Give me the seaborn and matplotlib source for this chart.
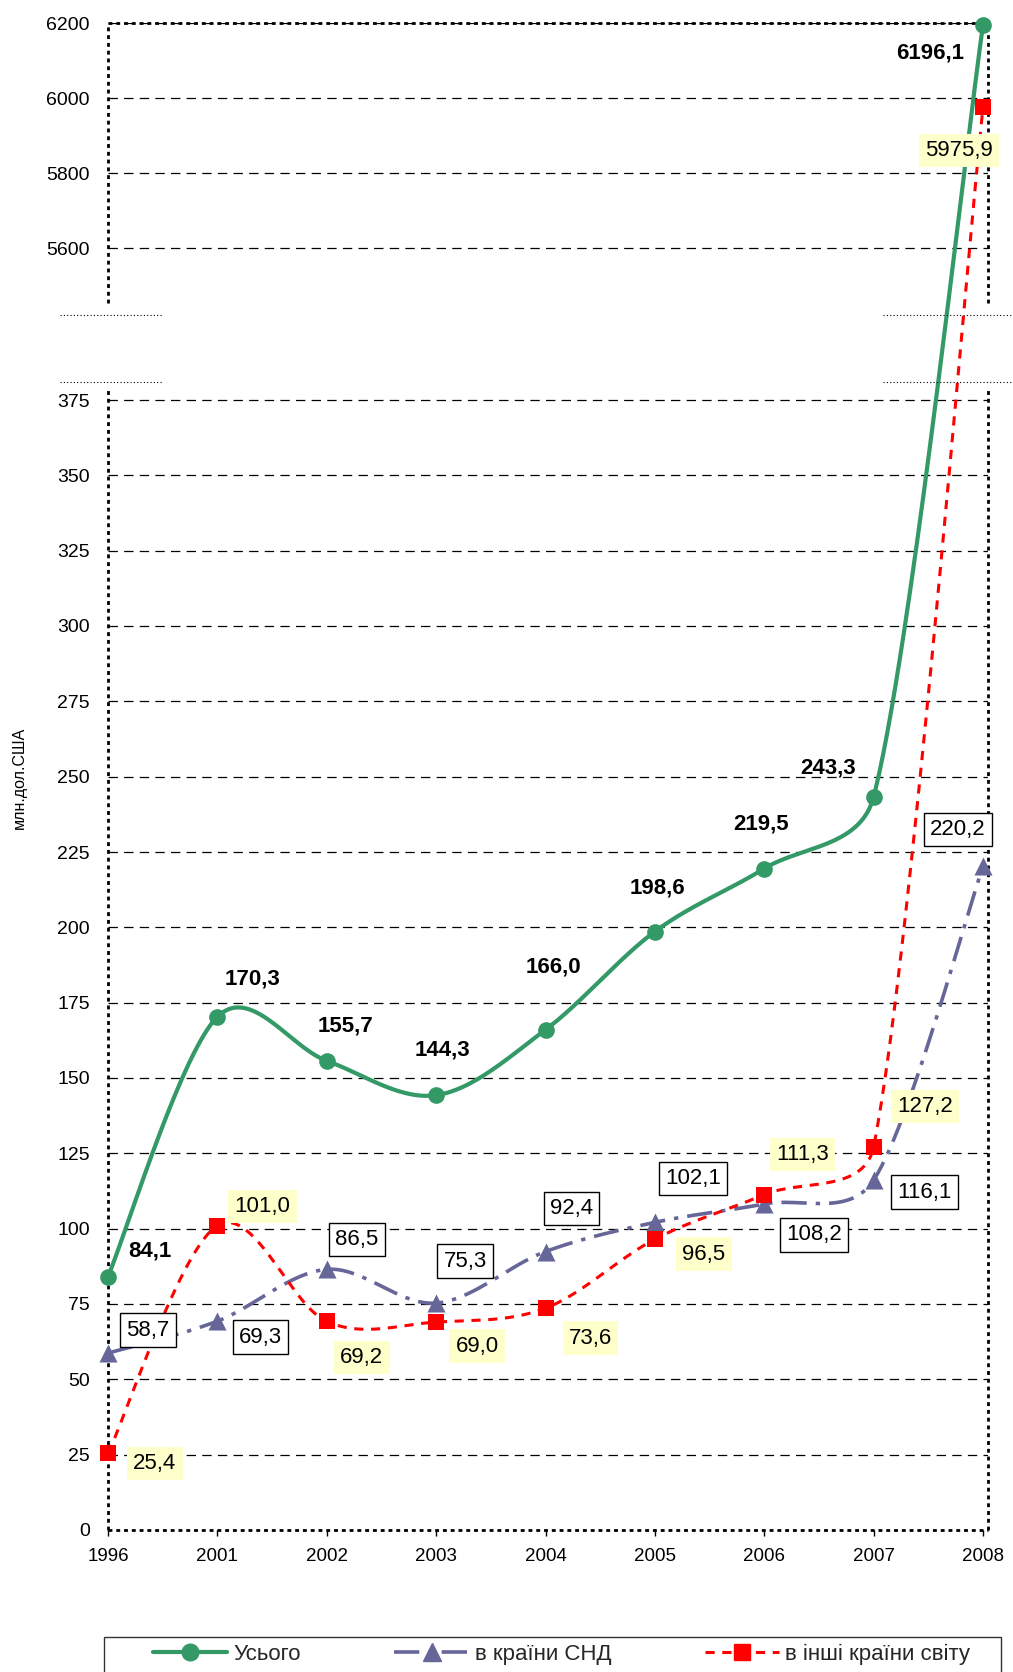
import numpy as np
import pandas as pd
import matplotlib
matplotlib.use("Agg")
import matplotlib.pyplot as plt
import seaborn as sns
from matplotlib.lines import Line2D
from matplotlib.patches import Rectangle

# Data (млн. дол. США)
years = ["1996", "2001", "2002", "2003", "2004", "2005", "2006", "2007", "2008"]
total = [84.1, 170.3, 155.7, 144.3, 166.0, 198.6, 219.5, 243.3, 6196.1]
cis = [58.7, 69.3, 86.5, 75.3, 92.4, 102.1, 108.2, 116.1, 220.2]
other = [25.4, 101.0, 69.2, 69.0, 73.6, 96.5, 111.3, 127.2, 5975.9]
names = ["Усього", "в країни СНД", "в інші країни світу"]
low_ticks = list(range(0, 376, 25))
high_ticks = [5600, 5800, 6000, 6200]

# label offsets in pixels (dx, dy downwards)
off_total = [(42, -26), (35, -38), (19, -35), (6, -45), (8, -63), (3, -44), (-3, -45), (-46, -29), (-53, 28)]
off_cis = [(40, -23), (43, 16), (30, -30), (29, -42), (26, -43), (38, -44), (50, 31), (51, 12), (-25, -37)]
off_other = [(47, 10), (45, -19), (35, 36), (41, 24), (45, 30), (49, 15), (38, -40), (51, -40), (-24, 43)]

W, H = 1013, 1672
GREEN, SLATE, RED, YELLOW = "#339966", "#666699", "#FF0000", "#FFFFCC"

sns.set_theme(style="white")
plt.rcParams["font.family"] = ["Liberation Sans", "DejaVu Sans"]

# broken y axis: value -> pixels above zero line
BREAK_LO, BREAK_HI, TOP = 379, 5454, 6200
low_k, high_k, top_px = 1130 / 375, 0.375, 1506.7
knots_v = np.array([-1e4, 0, BREAK_LO, BREAK_HI, TOP, 1e5])
knots_s = np.array([-1e4 * low_k, 0, BREAK_LO * low_k,
                    top_px - (TOP - BREAK_HI) * high_k, top_px,
                    top_px + (1e5 - TOP) * high_k])


def fwd(v):
    return np.interp(v, knots_v, knots_s)


def inv(s):
    return np.interp(s, knots_s, knots_v)


XPX = 109.375  # pixels per category


def smooth(vals, n=60):
    # excel-like smoothed line, built in pixel space
    p = np.column_stack([np.arange(len(vals)) * XPX, fwd(np.array(vals, float))])
    ext = np.vstack([p[0], p, p[-1]])
    pts = [p[:1]]
    t = np.linspace(0, 1, n)[1:, None]
    for i in range(len(p) - 1):
        p0, p1, p2, p3 = ext[i], ext[i + 1], ext[i + 2], ext[i + 3]
        seg = np.linalg.norm(p2 - p1)
        a1, a2 = (p2 - p0) / 6, (p3 - p1) / 6
        a1 = a1 * min(1, 0.4 * seg / max(np.linalg.norm(a1), 1e-9))
        a2 = a2 * min(1, 0.4 * seg / max(np.linalg.norm(a2), 1e-9))
        c1, c2 = p1 + a1, p2 - a2
        b = (1 - t) ** 3 * p1 + 3 * (1 - t) ** 2 * t * c1 + 3 * (1 - t) * t ** 2 * c2 + t ** 3 * p2
        pts.append(b)
    pts = np.vstack(pts)
    return pd.DataFrame({"x": pts[:, 0] / XPX, "y": inv(pts[:, 1])})


fig = plt.figure(figsize=(W / 100, H / 100), dpi=100)
ax = fig.add_axes([108 / W, (H - 1530) / H, 880 / W, (1530 - 23.3) / H])
xmax = 880 / XPX

# grid and frame (broken)
grid_vals = low_ticks[1:] + high_ticks
ax.hlines(grid_vals, 0, xmax, colors="black", lw=0.9, linestyles=[(0, (7.5, 5))], zorder=1)
for xx in (0, xmax):
    ax.vlines(xx, 0, BREAK_LO, colors="black", lw=2, linestyles=[(0, (1.4, 1.4))], zorder=2, clip_on=False)
    ax.vlines(xx, BREAK_HI, TOP, colors="black", lw=2, linestyles=[(0, (1.4, 1.4))], zorder=2, clip_on=False)
ax.hlines([0, TOP], 0, xmax, colors="black", lw=2, linestyles=[(0, (1.4, 1.4))], zorder=2, clip_on=False)

styles = [
    (total, GREEN, 3.0, "-", "o", 12, off_total, dict(fontweight="bold"), None),
    (cis, SLATE, 2.6, (0, (7, 2.5, 1.2, 2.5)), "^", 13, off_cis, {},
     dict(boxstyle="square,pad=0.28", fc="white", ec="black", lw=1)),
    (other, RED, 2.2, (0, (3, 2.5)), "s", 12, off_other, {},
     dict(boxstyle="square,pad=0.28", fc=YELLOW, ec="none")),
]

x_idx = np.arange(len(years))
for vals, col, lw, ls, mk, ms, offs, fkw, box in styles:
    curve = smooth(vals)
    sns.lineplot(data=curve, x="x", y="y", sort=False, estimator=None, color=col,
                 lw=lw, linestyle=ls, ax=ax, zorder=3, clip_on=False)
    sns.scatterplot(x=x_idx, y=vals, marker=mk, s=ms ** 2, color=col, linewidth=0,
                    ax=ax, zorder=4, clip_on=False)

for vals, col, lw, ls, mk, ms, offs, fkw, box in styles:
    for i, v in enumerate(vals):
        dx, dy = offs[i]
        ax.annotate(f"{v:.1f}".replace(".", ","), xy=(i, v), xytext=(dx * 0.72, -dy * 0.72),
                    textcoords="offset points", ha="center", va="center", fontsize=16,
                    color="black", bbox=box, zorder=6, annotation_clip=False, **fkw)

ax.set_yscale("function", functions=(fwd, inv))
ax.set_ylim(0, TOP)
ax.set_xlim(0, xmax)
ax.set_yticks(low_ticks + high_ticks)
ax.set_yticklabels([str(v) for v in low_ticks + high_ticks])
ax.set_xticks(x_idx)
ax.set_xticklabels(years)
ax.set_xlabel("")
ax.set_ylabel("")
for sp in ax.spines.values():
    sp.set_visible(False)
ax.tick_params(axis="y", left=False, length=0, pad=13, labelsize=14, labelcolor="black")
ax.tick_params(axis="x", bottom=True, length=4, width=1, color="black", direction="out",
               pad=9, labelsize=13.5, labelcolor="black")
ax.grid(False)

# break marks
for yy in (315, 381.5):
    fig.add_artist(Line2D([60 / W, 162 / W], [1 - yy / H] * 2, transform=fig.transFigure,
                          color="black", lw=0.8, linestyle=(0, (1, 2))))
    fig.add_artist(Line2D([883 / W, 1.0], [1 - yy / H] * 2, transform=fig.transFigure,
                          color="black", lw=0.8, linestyle=(0, (1, 2))))

fig.text(19 / W, 1 - 778 / H, "млн.дол.США", rotation=90, fontsize=11.5, ha="center", va="center",
         color="black")

# legend
handles = [
    Line2D([], [], color=GREEN, lw=3, marker="o", ms=12),
    Line2D([], [], color=SLATE, lw=2.6, linestyle=(0, (7, 2.5, 1.2, 2.5)), marker="^", ms=13),
    Line2D([], [], color=RED, lw=2.2, linestyle=(0, (3, 2.5)), marker="s", ms=12),
]
fig.legend(handles, names, loc="center left", bbox_to_anchor=(153 / W, 1 - 1654 / H), ncol=3,
           frameon=False, fontsize=16, handlelength=3.35, handletextpad=0.27,
           columnspacing=4.2, borderpad=0, borderaxespad=0)
fig.add_artist(Rectangle((104 / W, -0.01), (1001 - 104) / W, (1672 - 1637) / H + 0.01,
                         transform=fig.transFigure, fill=False, ec="#333333", lw=1))

fig.savefig("out.png", dpi=100)
